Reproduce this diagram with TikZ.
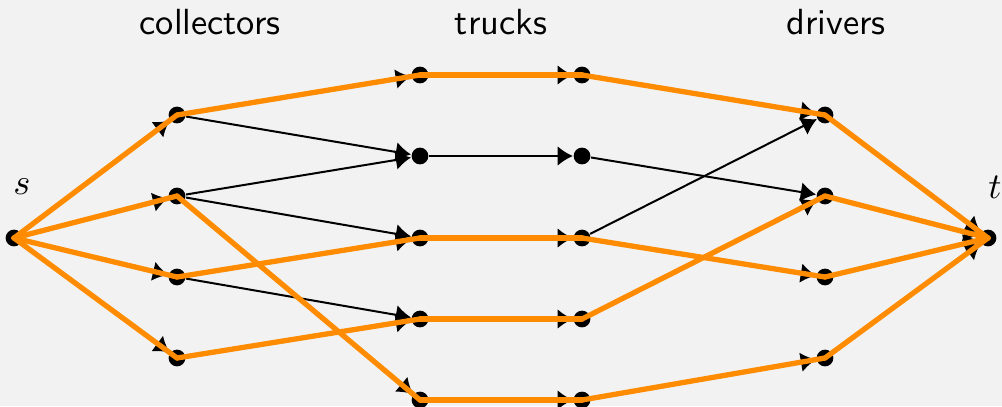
\documentclass[tikz,border=0pt]{standalone}
\usetikzlibrary{arrows.meta}
\definecolor{bgcol}{RGB}{242,242,242}
\definecolor{flow}{RGB}{255,140,0}
\tikzset{
  vtx/.style={circle,fill=black,inner sep=0pt,minimum size=4.6pt},
  edge/.style={-{Latex[length=4.2pt,width=5.4pt]},line width=0.55pt},
  used/.style={flow,line width=1.45pt,line cap=round},
  head/.style={font=\sffamily}
}

\begin{document}
\begin{tikzpicture}[x=0.275pt,y=-0.275pt]
\useasboundingbox (0,0) rectangle (1002,406);
\fill[bgcol] (0,0) rectangle (1002,406);
\node[vtx] (s) at (14,238){};
\node[vtx] (t) at (988,238){};
\foreach \i/\y in {1/115,2/196,3/277,4/358}
{
    \node[vtx] (c\i) at (177,\y){};
    \node[vtx] (d\i) at (825,\y){};
}
\foreach \i/\y in {1/75,2/156,3/238,4/319,5/400}
{
    \node[vtx] (a\i) at (420,\y){};
    \node[vtx] (b\i) at (582,\y){};
}
\node[head] (lc) at (210,22){collectors};
\node[head] (lt) at (501,22){trucks};
\node[head] (ld) at (836,22){drivers};
\node (ls) at (22,187){$s$};
\node (lt) at (995,187){$t$};
% all edges of the network
\foreach \u/\v in {s/c1,s/c2,s/c3,s/c4,c1/a1,c1/a2,c2/a2,c2/a3,c2/a5,c3/a3,c3/a4,c4/a4,
  a1/b1,a2/b2,a3/b3,a4/b4,a5/b5,b1/d1,b2/d2,b3/d1,b3/d3,b4/d2,b5/d4,d1/t,d2/t,d3/t,d4/t}
{
    \draw[edge] (\u) -- (\v);
}
% the flow
\foreach \u/\v in {s/c1,s/c2,s/c3,s/c4,c1/a1,c2/a5,c3/a3,c4/a4,
  a1/b1,a3/b3,a4/b4,a5/b5,b1/d1,b3/d3,b4/d2,b5/d4,d1/t,d2/t,d3/t,d4/t}
{
    \draw[used] (\u.center) -- (\v.center);
}
\end{tikzpicture}
\end{document}
